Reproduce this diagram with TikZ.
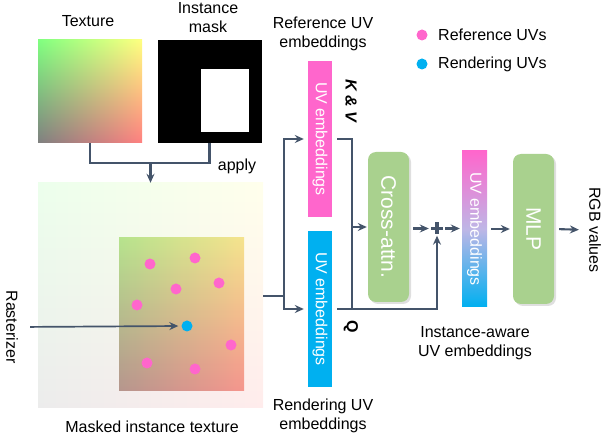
\documentclass[tikz,border=0pt]{standalone}
\usepackage{fontspec}
\setmainfont{Liberation Sans}
\usetikzlibrary{arrows.meta, shadows}
\definecolor{refpink}{HTML}{FF66CC}
\definecolor{renblue}{HTML}{00B0F0}
\definecolor{midlav}{RGB}{190,182,230}
\definecolor{boxgreen}{HTML}{A9D18E}
\definecolor{slate}{HTML}{44546A}
\pgfdeclarefunctionalshading{uvmap}{\pgfpoint{0bp}{0bp}}{\pgfpoint{100bp}{100bp}}{}{100 div 0.25 add exch 100 div 0.25 add exch 0.5}
\tikzstyle{lbl}=[font=\fontsize{16}{19}\selectfont, align=center, inner sep=0]
\tikzstyle{tile}=[minimum width=104pt, minimum height=103pt, inner sep=0]
\tikzstyle{bar}=[minimum width=24pt, minimum height=156pt, inner sep=0, text=white, font=\fontsize{16}{19}\selectfont]
\tikzstyle{gbox}=[fill=boxgreen, rounded corners=8pt, minimum width=41pt, minimum height=150pt, inner sep=0, text=white, font=\fontsize{21}{24}\selectfont, drop shadow={shadow xshift=2pt, shadow yshift=-2pt, opacity=0.25}]
\tikzstyle{rdot}=[circle, fill=refpink, minimum size=11pt, inner sep=0]
\tikzstyle{bdot}=[circle, fill=renblue, minimum size=11pt, inner sep=0]
\tikzstyle{ln}=[draw=slate, line width=2.1pt]
\tikzstyle{arr}=[ln, -{Stealth[length=9pt, width=8pt, inset=3pt]}]

\begin{document}
\begin{tikzpicture}[x=1pt, y=-1pt]
\useasboundingbox (0,0) rectangle (603,438);
% texture and mask
\node[tile, shade, shading=uvmap] (tex) at (90,91.5) {};
\node[tile, fill=black] (mask) at (209.5,91.5) {};
\node[fill=white, minimum width=48pt, minimum height=63pt, inner sep=0] (hole) at (225,100.5) {};
\node[lbl] at (88,21) {Texture};
\node[lbl] at (208,17.5) {Instance\\mask};
\node[lbl] at (237,166) {apply};
% masked instance texture
\node[minimum width=225pt, minimum height=225pt, inner sep=0, shade, shading=uvmap, fill opacity=0.15] (masked) at (150.5,295.5) {};
\begin{scope}
\clip (119,238) rectangle (244,391);
\shade[shading=uvmap, fill opacity=0.88] (38,183) rectangle (263,408);
\end{scope}
\node[lbl] at (152,427) {Masked instance texture};
\foreach \p in {(150,264),(195,258),(219,283),(176,289),(137,305),(231,345),(147,363),(195,369)}
  \node[rdot] at \p {};
\node[bdot] (blue) at (187,326) {};
\node[lbl] (rast) at (12,327) {\rotatebox{-90}{Rasterizer}};
% embeddings
\node[bar, fill=refpink] (refbar) at (320,139) {\rotatebox{-90}{UV embeddings}};
\node[bar, fill=renblue] (renbar) at (320,309) {\rotatebox{-90}{UV embeddings}};
\node[lbl] at (323,33.5) {Reference UV\\embeddings};
\node[lbl] at (323,415.5) {Rendering UV\\embeddings};
\node[lbl, font=\fontsize{16}{19}\selectfont\bfseries\itshape] at (351,101) {\rotatebox{-90}{K \& V}};
\node[lbl, font=\fontsize{16}{19}\selectfont\bfseries] at (351,327) {\rotatebox{-90}{Q}};
\node[gbox] (xattn) at (388.5,227) {\rotatebox{-90}{Cross-attn.}};
\node[inner sep=0, minimum size=12pt, path picture={
  \draw[slate, line width=3.5pt] (path picture bounding box.north) -- (path picture bounding box.south);
  \draw[slate, line width=3.5pt] (path picture bounding box.west) -- (path picture bounding box.east);}] (plus) at (437,228.5) {};
\node[bar, minimum height=156pt, minimum width=25pt, top color=refpink, bottom color=renblue, middle color=midlav] (instbar) at (474.5,229) {\rotatebox{-90}{UV embeddings}};
\node[lbl] at (475,343) {Instance-aware\\UV embeddings};
\node[gbox] (mlp) at (533.5,229) {\rotatebox{-90}{MLP}};
\node[lbl] (rgb) at (595,230) {\rotatebox{-90}{RGB values}};
% legend
\node[rdot] (lgr) at (422,35) {};
\node[lbl, anchor=west] at (438,35) {Reference UVs};
\node[bdot] (lgb) at (422,64) {};
\node[lbl, anchor=west] at (438,64) {Rendering UVs};
% connectors
\coordinate (apj) at (150.5,163);
\coordinate (split) at (284,296);
\coordinate (kvj) at (352,309);
\draw[ln] (tex.south) -- ++(0,20) -| (mask.south);
\draw[arr] (apj) -- (masked.north);
\draw[arr, line width=1.7pt, shorten <=12pt, shorten >=3pt] (rast.east) -- (blue.west);
\draw[ln] (masked.east |- split) -- (split);
\draw[arr, shorten >=4pt] (split) |- (refbar.west);
\draw[arr, shorten >=4pt] (split) |- (renbar.west);
\draw[ln, shorten <=5pt] (refbar.east) -| (kvj);
\draw[arr, shorten >=1pt] (kvj |- xattn.west) -- (xattn.west);
\draw[arr, shorten <=5pt, shorten >=1pt] (renbar.east) -| (plus.south);
\draw[arr, shorten <=4pt, shorten >=2pt] (xattn.east |- plus.west) -- (plus.west);
\draw[arr, shorten <=2pt, shorten >=2pt] (plus.east) -- (instbar.west |- plus.east);
\draw[arr, shorten <=4pt, shorten >=3pt] (instbar.east) -- (mlp.west);
\draw[arr, shorten <=5pt, shorten >=10pt] (mlp.east) -- (rgb.west);
\end{tikzpicture}
\end{document}
